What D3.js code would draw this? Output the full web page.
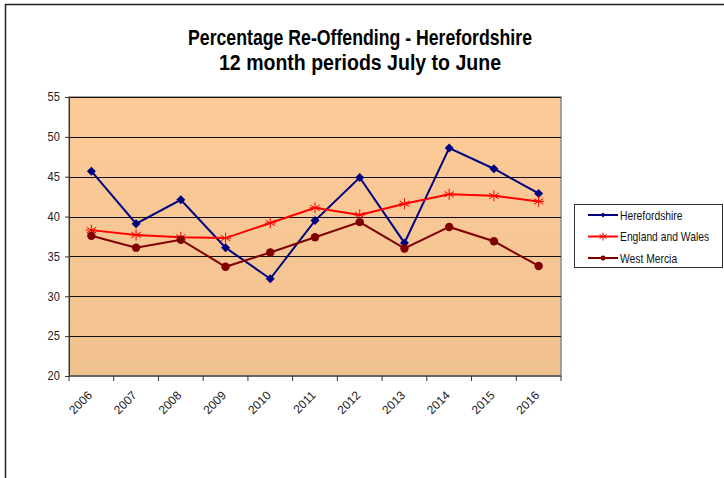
<!DOCTYPE html>
<html>
<head>
<meta charset="utf-8">
<script src="https://cdn.jsdelivr.net/npm/d3@7"></script>
<style>
  body { margin: 0; background: #fff; }
  svg { display: block; font-family: "Liberation Sans", Arial, sans-serif; }
  .title { font-weight: bold; font-size: 22px; }
  .axis text { font-size: 12px; fill: #222; }
  .legend text { font-size: 12px; fill: #111; }
</style>
</head>
<body>
<svg id="chart" width="724" height="478"></svg>
<script>
const years = ['2006', '2007', '2008', '2009', '2010', '2011', '2012', '2013', '2014', '2015', '2016'];
const herefordshire = [45.7, 39.1, 42.1, 36.1, 32.2, 39.5, 44.9, 36.7, 48.6, 46.0, 42.9];
const englandWales = [38.3, 37.7, 37.4, 37.3, 39.2, 41.1, 40.2, 41.6, 42.8, 42.6, 41.9];
const westMercia = [37.6, 36.1, 37.1, 33.7, 35.5, 37.4, 39.3, 36.0, 38.7, 36.9, 33.8];
const yTicks = [20, 25, 30, 35, 40, 45, 50, 55];
const titleLines = ['Percentage Re-Offending - Herefordshire', '12 month periods July to June'];

const series = [
  { name: 'Herefordshire', values: herefordshire, color: '#000080', marker: 'diamond' },
  { name: 'England and Wales', values: englandWales, color: '#ff0000', marker: 'star' },
  { name: 'West Mercia', values: westMercia, color: '#800000', marker: 'circle' },
];

const svg = d3.select('#chart');
const plot = { left: 69, right: 561, top: 97, bottom: 376 };

// frame (top + left only)
svg.append('path')
  .attr('d', 'M5.5,478 V4.5 H724')
  .attr('fill', 'none')
  .attr('stroke', '#222')
  .attr('stroke-width', 1.5);

// title - narrow font look, squeeze horizontally
const titleWidths = [344, 282];
svg.append('g').selectAll('text')
  .data(titleLines)
  .join('text')
  .classed('title', true)
  .attr('x', 360)
  .attr('y', (d, i) => 45 + i * 25)
  .attr('text-anchor', 'middle')
  .attr('textLength', (d, i) => titleWidths[i])
  .attr('lengthAdjust', 'spacingAndGlyphs')
  .text(d => d);

const x = d3.scaleBand().domain(years).range([plot.left, plot.right]);
const y = d3.scaleLinear().domain([20, 55]).range([plot.bottom, plot.top]);

// background gradient
const grad = svg.append('defs').append('linearGradient')
  .attr('id', 'bg').attr('x1', 0).attr('y1', 0).attr('x2', 0).attr('y2', 1);
grad.append('stop').attr('offset', '0%').attr('stop-color', '#fdcb98');
grad.append('stop').attr('offset', '100%').attr('stop-color', '#f0c290');

svg.append('rect')
  .attr('x', plot.left).attr('y', plot.top)
  .attr('width', plot.right - plot.left).attr('height', plot.bottom - plot.top)
  .attr('fill', 'url(#bg)')
  .attr('stroke', '#888')
  .attr('stroke-width', 1.5);

// gridlines
svg.append('g').selectAll('line')
  .data(yTicks.filter(t => t > 20))
  .join('line')
  .attr('x1', plot.left).attr('x2', plot.right)
  .attr('y1', d => Math.round(y(d)) + 0.5).attr('y2', d => Math.round(y(d)) + 0.5)
  .attr('stroke', '#111')
  .attr('stroke-width', 1);

// y axis
const yAxis = svg.append('g')
  .attr('class', 'axis')
  .attr('transform', `translate(${plot.left},0)`)
  .call(d3.axisLeft(y).tickValues(yTicks).tickSize(4).tickPadding(6));
yAxis.select('.domain').attr('stroke', '#333');
yAxis.selectAll('.tick line').attr('stroke', '#333');
yAxis.selectAll('.tick text').attr('font-size', 12.5).attr('transform', 'scale(0.92,1)');

// x axis: ticks at band edges, labels rotated
const xg = svg.append('g').attr('class', 'axis');
xg.append('line')
  .attr('x1', plot.left).attr('x2', plot.right)
  .attr('y1', plot.bottom).attr('y2', plot.bottom)
  .attr('stroke', '#555').attr('stroke-width', 1.5);
xg.selectAll('.xtick')
  .data(years.concat(['end']))
  .join('line')
  .attr('class', 'xtick')
  .attr('x1', d => d === 'end' ? plot.right : x(d))
  .attr('x2', d => d === 'end' ? plot.right : x(d))
  .attr('y1', plot.bottom).attr('y2', plot.bottom + 5)
  .attr('stroke', '#333');
xg.selectAll('text')
  .data(years)
  .join('text')
  .attr('text-anchor', 'end')
  .attr('transform', d => `translate(${x(d) + x.bandwidth() / 2 + 1.5},${plot.bottom + 20}) rotate(-45)`)
  .text(d => d);

// lines + markers
const line = d3.line()
  .x((d, i) => x(years[i]) + x.bandwidth() / 2)
  .y(d => y(d));

function drawMarker(g, type, color, cx, cy, s) {
  if (type === 'diamond') {
    g.append('path')
      .attr('d', `M${cx},${cy - s} L${cx + s},${cy} L${cx},${cy + s} L${cx - s},${cy} Z`)
      .attr('fill', color);
  } else if (type === 'circle') {
    g.append('circle').attr('cx', cx).attr('cy', cy).attr('r', s).attr('fill', color);
  } else {
    const p = [];
    [90, 30, -30].forEach(a => {
      const r = a * Math.PI / 180;
      p.push(`M${cx - s * Math.cos(r)},${cy - s * Math.sin(r)} L${cx + s * Math.cos(r)},${cy + s * Math.sin(r)}`);
    });
    p.push(`M${cx - s},${cy} L${cx + s},${cy}`);
    g.append('path').attr('d', p.join(' ')).attr('stroke', color).attr('stroke-width', 1).attr('fill', 'none');
  }
}

series.forEach(s => {
  const g = svg.append('g');
  g.append('path')
    .datum(s.values)
    .attr('d', line)
    .attr('fill', 'none')
    .attr('stroke', s.color)
    .attr('stroke-width', 2);
  s.values.forEach((v, i) => {
    const size = s.marker === 'diamond' ? 4.5 : s.marker === 'circle' ? 4.2 : 5.5;
    drawMarker(g, s.marker, s.color, x(years[i]) + x.bandwidth() / 2, y(v), size);
  });
});

// legend
const lg = svg.append('g').attr('class', 'legend');
lg.append('rect')
  .attr('x', 574.5).attr('y', 204.5).attr('width', 148).attr('height', 63)
  .attr('fill', '#fff').attr('stroke', '#333');
series.forEach((s, i) => {
  const cy = 215 + i * 21.5;
  lg.append('line')
    .attr('x1', 588).attr('x2', 618).attr('y1', cy).attr('y2', cy)
    .attr('stroke', s.color).attr('stroke-width', 2);
  const mg = lg.append('g');
  drawMarker(mg, s.marker, s.color, 603, cy, s.marker === 'star' ? 4 : 2.5);
  lg.append('text')
    .attr('transform', `translate(620,${cy + 4.5}) scale(0.86,1)`)
    .text(s.name);
});
</script>
</body>
</html>
